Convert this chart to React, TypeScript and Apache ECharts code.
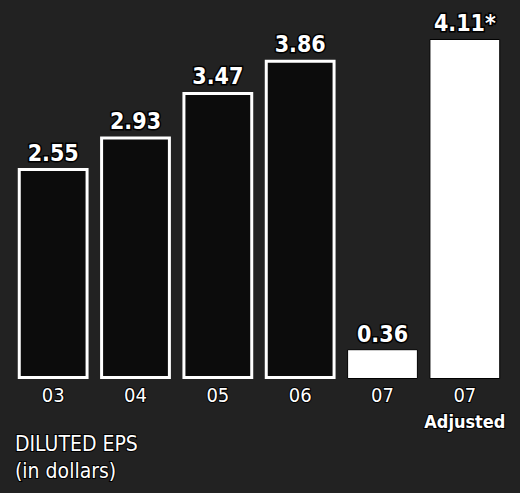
import React, { useEffect, useRef } from "react";
import * as echarts from "echarts";

const categories = ["03", "04", "05", "06", "07", "07\nAdjusted"];
const values = [2.55, 2.93, 3.47, 3.86, 0.36, 4.11];
const valueNotes = ["", "", "", "", "", "*"];
const solidBars = [false, false, false, false, true, true];
const titleLines = ["DILUTED EPS", "(in dollars)"];

const FONT = "'DejaVu Sans Condensed', 'Liberation Sans Narrow', sans-serif";

export default function App() {
  const ref = useRef<HTMLDivElement>(null);
  useEffect(() => {
    if (!ref.current) return;
    const chart = echarts.init(ref.current, undefined, { renderer: "svg" });
    chart.setOption({
      animation: false,
      backgroundColor: "#222222",
      grid: { left: 12, right: 14, top: 15, bottom: 114 },
      xAxis: {
        type: "category",
        data: categories,
        axisLine: { show: false },
        axisTick: { show: false },
        axisLabel: {
          interval: 0,
          color: "#ffffff",
          fontFamily: FONT,
          fontSize: 20,
          margin: 4,
          lineHeight: 24,
          textBorderColor: "#000",
          textBorderWidth: 2,
          formatter: (v: string) => {
            const parts = v.split("\n");
            return parts.length > 1 ? parts[0] + "\n{b|" + parts[1] + "}" : v;
          },
          rich: {
            b: {
              color: "#ffffff",
              fontFamily: FONT,
              fontWeight: "bold",
              fontSize: 18,
              lineHeight: 28,
              textBorderColor: "#000",
              textBorderWidth: 2,
            },
          },
        },
      },
      yAxis: {
        type: "value",
        min: 0,
        max: 4.4,
        show: false,
        splitLine: { show: false },
      },
      series: [
        {
          type: "bar",
          barCategoryGap: "14%",
          data: values.map((v, i) => ({
            value: v,
            itemStyle: solidBars[i]
              ? { color: "#ffffff", borderColor: "#000000", borderWidth: 1 }
              : { color: "#0c0c0c", borderColor: "#ffffff", borderWidth: 3 },
          })),
          label: {
            show: true,
            position: "top",
            distance: 4,
            color: "#ffffff",
            fontFamily: FONT,
            fontWeight: "bold",
            fontSize: 23,
            textBorderColor: "#000000",
            textBorderWidth: 3,
            formatter: (p: any) => values[p.dataIndex].toFixed(2) + valueNotes[p.dataIndex],
          },
        },
      ],
      graphic: [
        {
          type: "text",
          left: 14,
          top: 430,
          style: {
            text: titleLines.join("\n"),
            fill: "#ffffff",
            font: "21px " + FONT,
            lineHeight: 27,
            stroke: "#000",
            lineWidth: 2,
          },
        },
      ],
    });
    return () => chart.dispose();
  }, []);
  return <div ref={ref} style={{ width: 520, height: 493, position: "absolute", left: 0, top: 0 }} />;
}
